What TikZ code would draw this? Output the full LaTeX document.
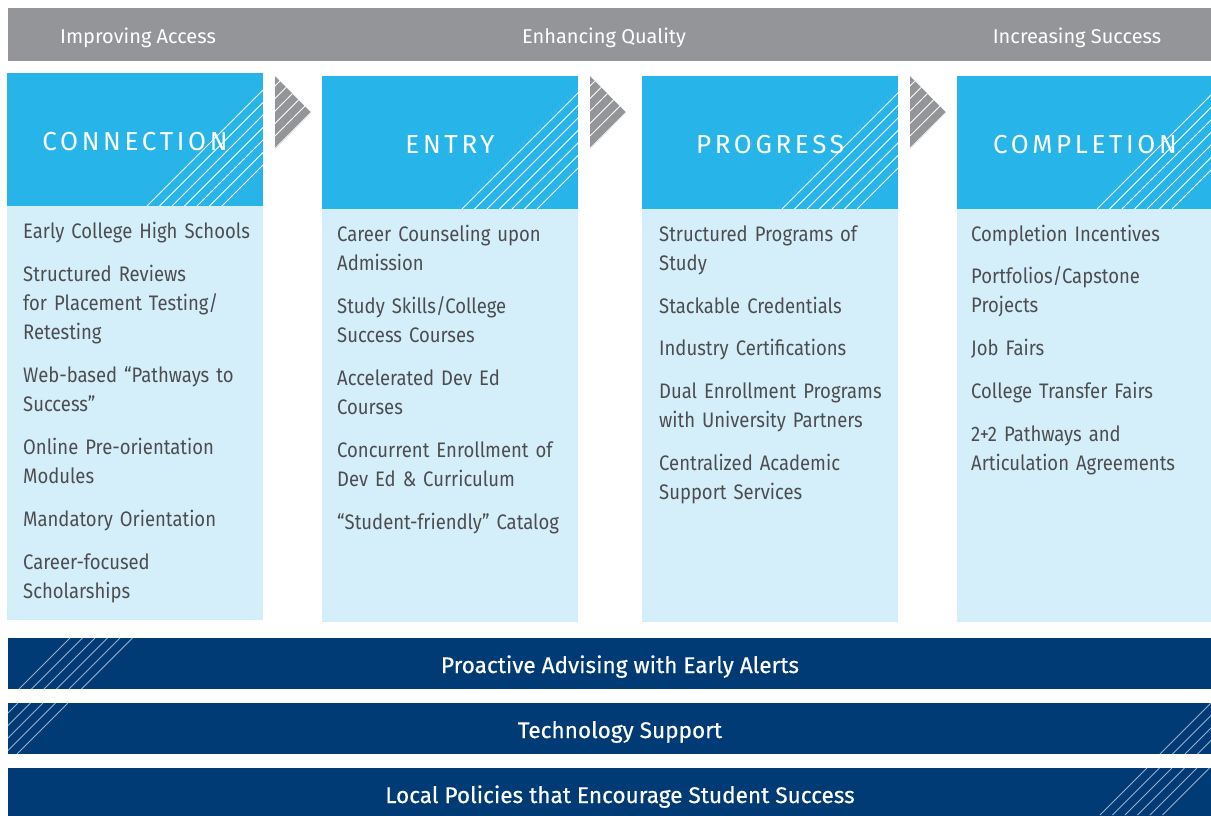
\documentclass[tikz,border=0pt]{standalone}
\usepackage{fontspec}
\setmainfont{Fira Sans}[FakeStretch=0.88]
\newfontfamily\titlefont{Fira Sans}[LetterSpace=14]
\newfontfamily\phasefont{Fira Sans}[FakeStretch=1.0]
\newfontfamily\barfont{Fira Sans}[FakeBold=0.4]
\definecolor{pathgray}{HTML}{939598}
\definecolor{stageblue}{HTML}{27B5E9}
\definecolor{stagelight}{HTML}{D4EFFA}
\definecolor{barnavy}{HTML}{003B76}
\definecolor{itemgray}{HTML}{4D4D4F}
\tikzset{
  hatch/.style={draw=white, line width=0.8pt},
  barhatch/.style={draw=white!60!barnavy, line width=0.9pt},
  phase/.style={text=white, font=\phasefont\fontsize{20}{24}\selectfont, anchor=base},
  stagetitle/.style={text=white, font=\titlefont\fontsize{26}{30}\selectfont, anchor=base},
  items/.style={text=itemgray, font=\fontsize{21}{29}\selectfont, anchor=base west,
    text width=245pt, align=left, inner sep=0pt},
  bartext/.style={text=white, font=\barfont\fontsize{22.6}{26}\selectfont, anchor=base}
}
% stage column: name, left x, top y, title
\newcommand{\stage}[4]{%
  \fill[stageblue] (#2,#3) rectangle ++(256,133);
  \fill[stagelight] ({#2},{#3+133}) rectangle ({#2+256},622);
  \begin{scope}
    \clip (#2,#3) rectangle ++(256,133);
    \foreach \k in {0,...,6}
      \draw[hatch] ({#2+140+12.5*\k},{#3+133}) -- ++(133,-133);
  \end{scope}
  \node[stagetitle] (#1) at ({#2+128},{#3+77}) {#4};
}
% hatched arrow between stages: left x
\newcommand{\flowarrow}[1]{%
  \begin{scope}
    \fill[pathgray] (#1,76) -- ++(36,36.5) -- ++(-36,36.5) -- cycle;
    \clip (#1,76) -- ++(36,36.5) -- ++(-36,36.5) -- cycle;
    \foreach \k in {0,...,5}
      \draw[hatch] ({#1},{86+12.5*\k}) -- ++(40,-40);
  \end{scope}
}
% support bar: name, top y, text
\newcommand{\supportbar}[3]{%
  \fill[barnavy] (8,#2) rectangle (1211,{#2+51});
  \node[bartext] (#1) at (620,{#2+35}) {#3};
}

\begin{document}
\begin{tikzpicture}[x=1pt,y=-1pt]
  \useasboundingbox (0,0) rectangle (1211,815);
  \clip (0,0) rectangle (1211,815);

  % phases
  \fill[pathgray] (8,8) rectangle (1211,61);
  \node[phase] (access)  at (138,43)  {Improving Access};
  \node[phase] (quality) at (604,43)  {Enhancing Quality};
  \node[phase] (success) at (1077,43) {Increasing Success};

  % stages
  \stage{connection}{7}{73}{CONNECTION}
  \stage{entry}{322}{76}{ENTRY}
  \stage{progress}{642}{76}{PROGRESS}
  \stage{completion}{957}{76}{COMPLETION}
  \fill[white] (7,620) rectangle (263,622);
  \flowarrow{275}
  \flowarrow{590}
  \flowarrow{910}

  % practices
  \node[items] (connection-list) at (23,238) {Early College High Schools\\[14pt]
    Structured Reviews\\for Placement Testing/\\Retesting\\[14pt]
    Web-based “Pathways to\\Success”\\[14pt]
    Online Pre-orientation\\Modules\\[14pt]
    Mandatory Orientation\\[14pt]
    Career-focused\\Scholarships};
  \node[items] (entry-list) at (337,241) {Career Counseling upon\\Admission\\[14pt]
    Study Skills/College\\Success Courses\\[14pt]
    Accelerated Dev Ed\\Courses\\[14pt]
    Concurrent Enrollment of\\Dev Ed \& Curriculum\\[14pt]
    “Student-friendly” Catalog};
  \node[items] (progress-list) at (659,241) {Structured Programs of\\Study\\[14pt]
    Stackable Credentials\\[13pt]
    Industry Certifications\\[14pt]
    Dual Enrollment Programs\\with University Partners\\[14pt]
    Centralized Academic\\Support Services};
  \node[items] (completion-list) at (971,241) {Completion Incentives\\[13pt]
    Portfolios/Capstone\\Projects\\[14pt]
    Job Fairs\\[14pt]
    College Transfer Fairs\\[14pt]
    2+2 Pathways and\\Articulation Agreements};

  % support bars
  \supportbar{advising}{638}{Proactive Advising with Early Alerts}
  \supportbar{technology}{703}{Technology Support}
  \supportbar{policies}{768}{Local Policies that Encourage Student Success}
  \begin{scope}
    \clip (8,638) rectangle (1211,689) (8,703) rectangle (1211,754) (8,768) rectangle (1211,819);
    \foreach \b in {19,31.5,...,83}
      \draw[barhatch] (\b,689) -- ++(51,-51);
    \foreach \b in {-33,-20.5,...,18}
      \draw[barhatch] (\b,754) -- ++(51,-51);
    \foreach \b in {1160,1172.5,...,1199}
      \draw[barhatch] (\b,754) -- ++(51,-51);
    \foreach \b in {1100,1112.5,...,1164}
      \draw[barhatch] (\b,815) -- ++(47,-47);
  \end{scope}
\end{tikzpicture}
\end{document}
